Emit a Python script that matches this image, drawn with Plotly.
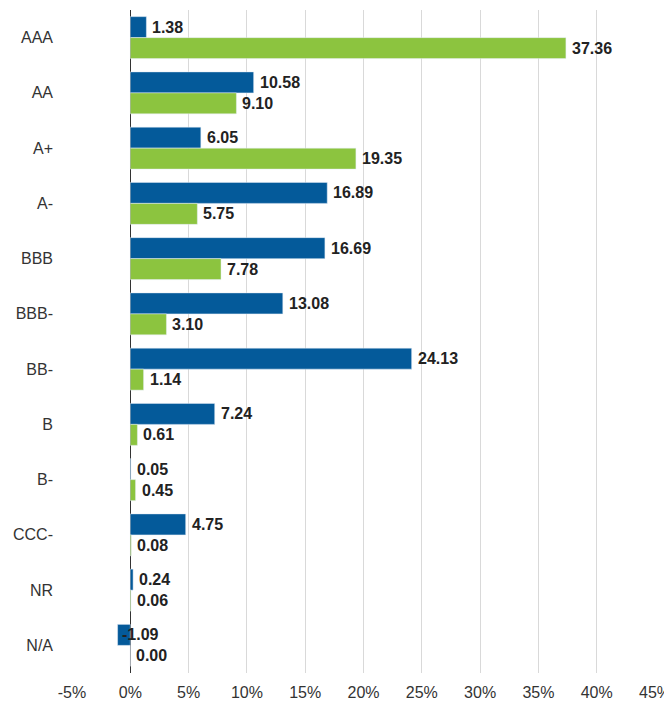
import plotly.graph_objects as go

categories = ["AAA", "AA", "A+", "A-", "BBB", "BBB-", "BB-", "B", "B-", "CCC-", "NR", "N/A"]
series_blue = [1.38, 10.58, 6.05, 16.89, 16.69, 13.08, 24.13, 7.24, 0.05, 4.75, 0.24, -1.09]
series_green = [37.36, 9.10, 19.35, 5.75, 7.78, 3.10, 1.14, 0.61, 0.45, 0.08, 0.06, 0.00]
tick_vals = [-5, 0, 5, 10, 15, 20, 25, 30, 35, 40, 45]
tick_text = ["-5%", "0%", "5%", "10%", "15%", "20%", "25%", "30%", "35%", "40%", "45%"]

BLUE = "#045A9A"
GREEN = "#8CC43F"
FONT = "Liberation Sans, Arial, sans-serif"

fig = go.Figure()
fig.add_trace(go.Bar(y=categories, x=series_blue, orientation="h", marker_color=BLUE, name="A"))
fig.add_trace(go.Bar(y=categories, x=series_green, orientation="h", marker_color=GREEN, name="B"))

annotations = []
for vals, shift in ((series_blue, 10.5), (series_green, -10.5)):
    for c, v in zip(categories, vals):
        annotations.append(dict(
            x=max(v, 0), y=c, text=f"{v:.2f}", showarrow=False,
            xanchor="left", yanchor="middle", xshift=4 if v >= 0 else -10, yshift=shift,
            font=dict(family=FONT, size=16, color="#222222", weight="bold"),
        ))

fig.update_layout(
    width=672, height=703,
    margin=dict(l=64, r=25, t=2, b=38),
    plot_bgcolor="white", paper_bgcolor="white",
    barmode="group", bargap=0.24, bargroupgap=0,
    showlegend=False,
    annotations=annotations,
    font=dict(family=FONT, size=16, color="#333333"),
)
fig.update_xaxes(
    range=[-5, 45], tickvals=tick_vals, ticktext=tick_text, automargin=False,
    showgrid=True, gridcolor="#D9D9D9", gridwidth=1,
    zeroline=True, zerolinecolor="#333333", zerolinewidth=1.2,
    showline=False, ticks="outside", ticklen=5, tickcolor="rgba(0,0,0,0)",
    tickfont=dict(family=FONT, size=16, color="#333333"),
)
fig.update_yaxes(
    autorange="reversed", showgrid=False, ticks="", automargin=False,
    ticklabelstandoff=18,
    tickfont=dict(family=FONT, size=16, color="#333333"),
)
fig.write_html("out.html")
